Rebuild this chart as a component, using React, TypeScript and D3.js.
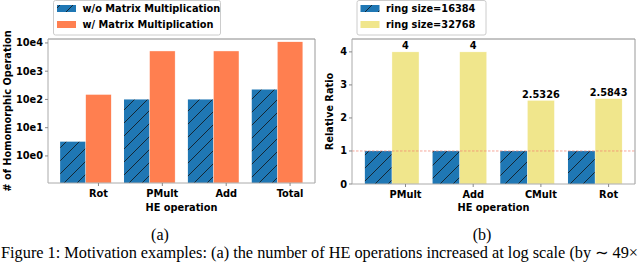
import * as d3 from "d3";

// panel (a): number of HE operations, log scale
const opsA = ["Rot", "PMult", "Add", "Total"];
const withoutMM = [3.2, 100, 100, 225];
const withMM = [150, 5200, 5200, 11000];
const logTicks = [1, 10, 100, 1000, 10000];
const logTickLabels = ["10e0", "10e1", "10e2", "10e3", "10e4"];
const seriesA = ["w/o Matrix Multiplication", "w/ Matrix Multiplication"];

// panel (b): relative ratio
const opsB = ["PMult", "Add", "CMult", "Rot"];
const ring16384 = [1, 1, 1, 1];
const ring32768 = [4, 4, 2.5326, 2.5843];
const ring32768Labels = ["4", "4", "2.5326", "2.5843"];
const ratioTicks = [0, 1, 2, 3, 4];
const seriesB = ["ring size=16384", "ring size=32768"];

const BLUE = "#1f77b4";
const ORANGE = "#ff7f50";
const KHAKI = "#f0e68c";
const FONT = "DejaVu Sans, sans-serif";
const FS = 9.8;

function Frame({ x0, x1, y0, y1 }: { x0: number; x1: number; y0: number; y1: number }) {
  return (
    <g fill="none">
      <line x1={x0} x2={x1} y1={y0} y2={y0} stroke="#888" />
      <line x1={x1} x2={x1} y1={y0} y2={y1} stroke="#999" />
      <line x1={x0} x2={x0} y1={y0} y2={y1} stroke="#aaa" />
      <line x1={x0} x2={x1} y1={y1} y2={y1} stroke="#aaa" />
    </g>
  );
}

function Legend({ x, w, labels, fills }: { x: number; w: number; labels: string[]; fills: string[] }) {
  return (
    <g>
      <rect x={x} y={0.5} width={w} height={34.5} rx={2} fill="white" stroke="#ccc" />
      {labels.map((l, i) => (
        <g key={l}>
          <rect x={x + 3.5} y={5 + i * 16} width={19} height={7} fill={fills[i]} />
          <text x={x + 29} y={12 + i * 16} fontFamily={FONT} fontWeight="bold" fontSize={FS}>
            {l}
          </text>
        </g>
      ))}
    </g>
  );
}

function PanelA() {
  const x0 = 48, x1 = 315, y0 = 39, y1 = 183;
  const xb = d3.scaleBand<string>().domain(opsA).range([x0, x1]).paddingInner(0.2).paddingOuter(0.19);
  const xs = d3.scaleBand<number>().domain([0, 1]).range([0, xb.bandwidth()]);
  const y = d3.scaleLog().domain([0.11, 13800]).range([y1, y0]);
  return (
    <g>
      {opsA.map((op, i) => (
        <g key={op}>
          <rect x={xb(op)! + xs(0)!} y={y(withoutMM[i])} width={xs.bandwidth()} height={y1 - y(withoutMM[i])} fill="url(#hatch)" />
          <rect x={xb(op)! + xs(1)!} y={y(withMM[i])} width={xs.bandwidth()} height={y1 - y(withMM[i])} fill={ORANGE} stroke="#fff" strokeWidth={0.4} />
        </g>
      ))}
      <Frame x0={x0} x1={x1} y0={y0} y1={y1} />
      {logTicks.map((t, i) => (
        <g key={t}>
          <line x1={x0 - 3} x2={x0} y1={y(t)} y2={y(t)} stroke="#888" />
          <text x={x0 - 5} y={y(t) + 3.5} textAnchor="end" fontFamily={FONT} fontWeight="bold" fontSize={FS}>
            {logTickLabels[i]}
          </text>
        </g>
      ))}
      {opsA.map((op) => {
        const cx = xb(op)! + xs(1)! + xs.bandwidth() / 2;
        return (
          <g key={op}>
            <line x1={cx} x2={cx} y1={y1} y2={y1 + 3} stroke="#888" />
            <text x={cx} y={y1 + 14} textAnchor="middle" fontFamily={FONT} fontWeight="bold" fontSize={FS}>
              {op}
            </text>
          </g>
        );
      })}
      <text x={(x0 + x1) / 2} y={211} textAnchor="middle" fontFamily={FONT} fontWeight="bold" fontSize={FS}>
        HE operation
      </text>
      <text transform={`translate(11,${(y0 + y1) / 2}) rotate(-90)`} textAnchor="middle" fontFamily={FONT} fontWeight="bold" fontSize={FS}>
        # of Homomorphic Operation
      </text>
      <Legend x={53.5} w={167} labels={seriesA} fills={["url(#hatch)", ORANGE]} />
    </g>
  );
}

function PanelB() {
  const x0 = 352, x1 = 635, y0 = 39, y1 = 184;
  const xb = d3.scaleBand<string>().domain(opsB).range([x0, x1]).paddingInner(0.2).paddingOuter(0.19);
  const xs = d3.scaleBand<number>().domain([0, 1]).range([0, xb.bandwidth()]);
  const y = d3.scaleLinear().domain([0, 4.39]).range([y1, y0]);
  return (
    <g>
      {opsB.map((op, i) => (
        <g key={op}>
          <rect x={xb(op)! + xs(0)!} y={y(ring16384[i])} width={xs.bandwidth()} height={y1 - y(ring16384[i])} fill="url(#hatch)" />
          <rect x={xb(op)! + xs(1)!} y={y(ring32768[i])} width={xs.bandwidth()} height={y1 - y(ring32768[i])} fill={KHAKI} stroke="#fff" strokeWidth={0.4} />
          <text x={xb(op)! + xs(1)! + xs.bandwidth() / 2} y={y(ring32768[i]) - 2.5} textAnchor="middle" fontFamily={FONT} fontWeight="bold" fontSize={FS}>
            {ring32768Labels[i]}
          </text>
        </g>
      ))}
      <line x1={x0} x2={x1} y1={y(1)} y2={y(1)} stroke="#f08070" strokeWidth={0.7} strokeDasharray="2.5,1.5" />
      <Frame x0={x0} x1={x1} y0={y0} y1={y1} />
      {ratioTicks.map((t) => (
        <g key={t}>
          <line x1={x0 - 3} x2={x0} y1={y(t)} y2={y(t)} stroke="#888" />
          <text x={x0 - 5} y={y(t) + 3.5} textAnchor="end" fontFamily={FONT} fontWeight="bold" fontSize={FS}>
            {t}
          </text>
        </g>
      ))}
      {opsB.map((op) => {
        const cx = xb(op)! + xs(1)! + xs.bandwidth() / 2;
        return (
          <g key={op}>
            <line x1={cx} x2={cx} y1={y1} y2={y1 + 3} stroke="#888" />
            <text x={cx} y={y1 + 14} textAnchor="middle" fontFamily={FONT} fontWeight="bold" fontSize={FS}>
              {op}
            </text>
          </g>
        );
      })}
      <text x={(x0 + x1) / 2} y={211} textAnchor="middle" fontFamily={FONT} fontWeight="bold" fontSize={FS}>
        HE operation
      </text>
      <text transform={`translate(333,${(y0 + y1) / 2}) rotate(-90)`} textAnchor="middle" fontFamily={FONT} fontWeight="bold" fontSize={FS}>
        Relative Ratio
      </text>
      <Legend x={357} w={129} labels={seriesB} fills={["url(#hatch)", KHAKI]} />
    </g>
  );
}

export default function App() {
  return (
    <svg width={640} height={262} style={{ position: "absolute", left: 0, top: 0, background: "white" }}>
      <defs>
        <pattern id="hatch" patternUnits="userSpaceOnUse" width={13} height={13}>
          <rect width={13} height={13} fill={BLUE} />
          <path d="M0,13 L13,0 M-2,2 L2,-2 M11,15 L15,11" stroke="#111" strokeWidth={0.8} />
        </pattern>
      </defs>
      <PanelA />
      <PanelB />
      <g fontFamily="Liberation Serif, Times New Roman, serif" fontSize={16}>
        <text x={160} y={240} textAnchor="middle">(a)</text>
        <text x={482} y={240} textAnchor="middle">(b)</text>
        <text x={1} y={258} textLength={637} lengthAdjust="spacingAndGlyphs">
          Figure 1: Motivation examples: (a) the number of HE operations increased at log scale (by ∼ 49×
        </text>
      </g>
    </svg>
  );
}
